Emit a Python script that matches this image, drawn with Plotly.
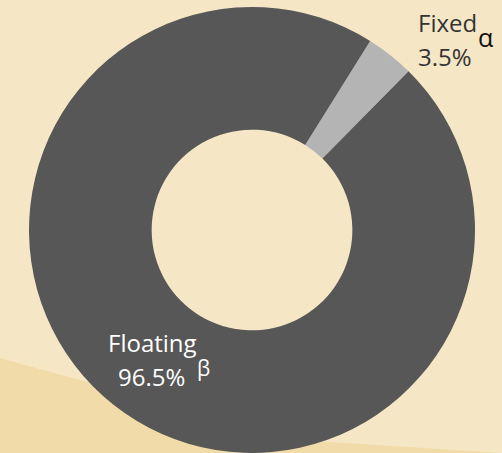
import plotly.graph_objects as go

# Rate-type split of the portfolio
categories = ["Fixed", "Floating"]
shares = [3.5, 96.5]
markers = ["α", "β"]
slice_colors = ["#b4b4b4", "#575757"]

W, H = 502, 453
cx, cy, r = 252, 230, 223  # donut centre and outer radius, in pixels


def px(x):
    return x / W


def py(y):
    return 1 - y / H


fig = go.Figure(
    go.Pie(
        labels=categories,
        values=shares,
        hole=0.45,
        sort=False,
        direction="clockwise",
        rotation=32,
        marker=dict(colors=slice_colors, line=dict(width=0)),
        textinfo="none",
        hoverinfo="label+percent",
        showlegend=False,
        domain=dict(x=[px(cx - r), px(cx + r)], y=[py(cy + r), py(cy - r)]),
    )
)

# darker sand wedge across the lower-left corner of the backdrop
fig.add_shape(
    type="path",
    xref="paper", yref="paper",
    path=f"M 0 {py(358)} L {px(300)} {py(440)} L {px(502)} {py(453)} L 0 0 Z",
    fillcolor="#f1dba8",
    line=dict(width=0),
    layer="below",
)
fig.add_shape(
    type="path",
    xref="paper", yref="paper",
    path=f"M 0 {py(352)} L {px(300)} {py(436)} L {px(300)} {py(440)} L 0 {py(358)} Z",
    fillcolor="#f6e6c4",
    line=dict(width=0),
    layer="below",
)

font_family = "Open Sans, Noto Sans, sans-serif"
fixed_text, float_text = categories
fixed_val, float_val = shares

label_specs = [
    (fixed_text, 447, 22, "#333333", 24),
    (f"{fixed_val}%", 445, 57, "#333333", 24),
    (markers[0], 485, 37, "#111111", 25),
    (float_text, 152, 342, "#ffffff", 24),
    (f"{float_val}%", 151, 376, "#ffffff", 24),
    (markers[1], 203, 368, "#ffffff", 21),
]

for text, x, y, color, size in label_specs:
    fig.add_annotation(
        text=text,
        x=px(x), y=py(y),
        xref="paper", yref="paper",
        xanchor="center", yanchor="middle",
        showarrow=False,
        font=dict(family=font_family, size=size, color=color),
    )

fig.update_layout(
    width=W,
    height=H,
    margin=dict(l=0, r=0, t=0, b=0),
    paper_bgcolor="#f5e7c6",
    plot_bgcolor="rgba(0,0,0,0)",
)

fig.write_html("out.html")
